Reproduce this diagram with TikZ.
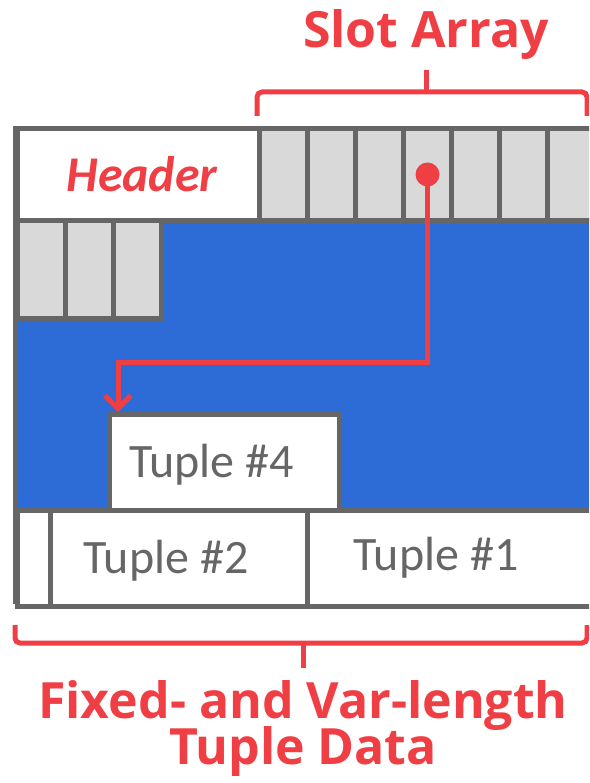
\documentclass[tikz,border=0pt]{standalone}
\usepackage{fontspec}
\setmainfont{Open Sans}
\newfontfamily\calfont{Carlito}
\usetikzlibrary{arrows.meta, positioning, calc}
\definecolor{pgray}{HTML}{666666}
\definecolor{lgray}{HTML}{D9D9D9}
\definecolor{pblue}{HTML}{2D6BD6}
\definecolor{pred}{HTML}{EF3E44}

\begin{document}
\begin{tikzpicture}[x=1pt, y=-1pt,
    box/.style={draw=pgray, line width=5pt, inner sep=0pt, anchor=north west},
    slot/.style={box, fill=lgray, minimum width=48pt},
    tuple/.style={box, fill=white, minimum height=96pt},
    tlbl/.style={font=\calfont\fontsize{48}{52}\selectfont, text=pgray},
    ttl/.style={font=\bfseries\fontsize{50}{56}\selectfont, text=pred, align=center},
    ptr/.style={draw=pred, line width=5pt, -{Straight Barb[length=13pt, width=26pt]}},
    brc/.style={draw=pred, line width=5pt, rounded corners=5pt}
]
    \useasboundingbox (0,0) rectangle (589,783);
    \clip (0,0) rectangle (589,783);
    \fill[pblue] (15,218) rectangle (620,508);
    \node[box, fill=white, minimum width=242pt, minimum height=92pt] (hdr) at (15,126) {};
    \node[font=\calfont\bfseries\itshape\fontsize{50}{54}\selectfont, text=pred] (hlbl) at (142,174) {Header};
    \foreach \i in {0,...,6} {
        \node[slot, minimum height=92pt] (s\i) at ({257+48*\i},126) {};
    }
    \foreach \i in {0,1,2} {
        \node[slot, minimum height=98pt] (r\i) at ({15+48*\i},218) {};
    }
    \draw[pgray, line width=5pt] (15,126) -- (15,604);
    \node[tuple, minimum width=230pt] (t4) at (107,412) {};
    \node[tuple, minimum width=33pt] (t3) at (15,508) {};
    \node[tuple, minimum width=257pt] (t2) at (48,508) {};
    \node[tuple, minimum width=320pt] (t1) at (305,508) {};
    \node[tlbl] at ($(t4.center)+(-13,2)$) {Tuple \#4};
    \node[tlbl] at ($(t2.center)+(-13,2)$) {Tuple \#2};
    \node[tlbl] at (436,558) {Tuple \#1};
    \node[circle, fill=pred, minimum size=24pt, inner sep=0pt] (dot) at (s3.center) {};
    \coordinate (bend) at (118,362);
    \draw[ptr] (dot.center) |- (bend) -- (bend |- t4.north);
    \draw[brc] (257,116) -- (257,92) -- (587,92) -- (587,116);
    \draw[draw=pred, line width=5pt] (426,92) -- (426,70);
    \node[ttl] (slbl) at (426,35) {Slot Array};
    \draw[brc] (15,625) -- (15,643) -- (587,643) -- (587,625);
    \draw[draw=pred, line width=5pt] (303,643) -- (303,668);
    \node[ttl] (dlbl) at (303,729) {Fixed- and Var-length\\[-10pt]Tuple Data};
\end{tikzpicture}
\end{document}
